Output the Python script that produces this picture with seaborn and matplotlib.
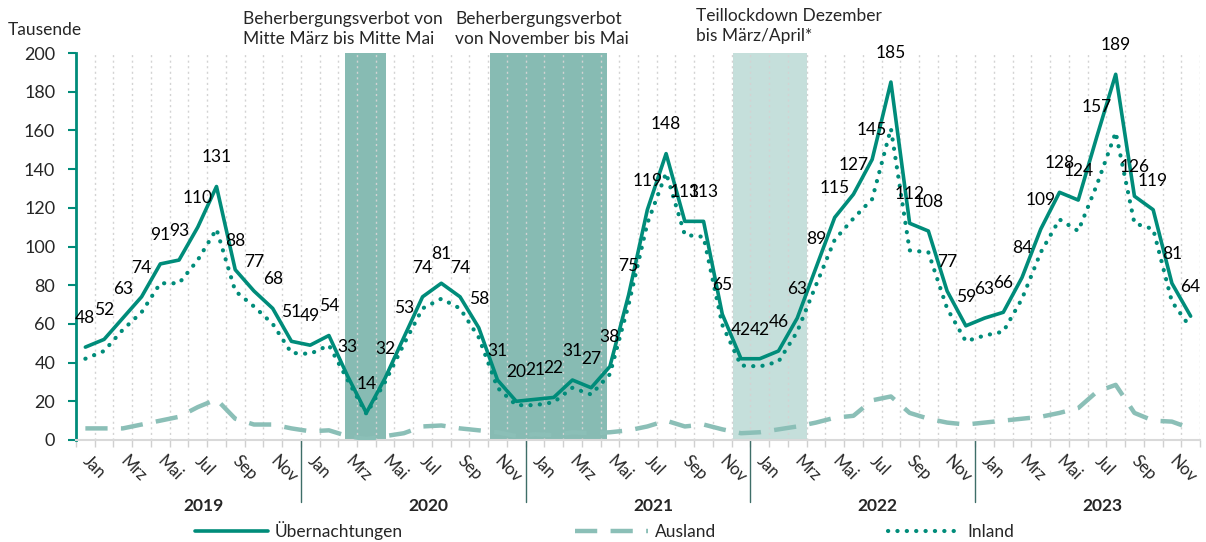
import numpy as np
import pandas as pd
import seaborn as sns
import matplotlib.pyplot as plt

# Monthly values Jan 2019 - Dec 2023, in thousands
uebernachtungen = [
    48, 52, 63, 74, 91, 93, 110, 131, 88, 77, 68, 51,
    49, 54, 33, 14, 32, 53, 74, 81, 74, 58, 31, 20,
    21, 22, 31, 27, 38, 75, 119, 148, 113, 113, 65, 42,
    42, 46, 63, 89, 115, 127, 145, 185, 112, 108, 77, 59,
    63, 66, 84, 109, 128, 124, 157, 189, 126, 119, 81, 64,
]
ausland = [
    6, 6, 6, 8, 10, 12, 17, 21, 11, 8, 8, 6,
    4.5, 5, 2, 0.5, 2, 3.5, 7, 7.5, 6, 5, 4, 2,
    3, 2.5, 4, 3.5, 4, 5, 7, 10, 7, 8, 5.5, 3.5,
    4, 5.5, 7, 9, 11.5, 12.5, 20.5, 22.5, 14, 11, 9, 8,
    9, 10, 11, 12, 14, 16.5, 25, 28.5, 14, 10, 9.5, 6,
]
inland = [
    42, 46, 57, 66, 81, 81, 93, 109, 77, 69, 60, 45,
    44.5, 49, 31, 13.5, 30, 49.5, 68, 73, 68, 53, 27, 18,
    18, 19.5, 27, 23.5, 34, 70, 112, 138, 106, 105, 59.5, 38.5,
    38, 40.5, 56, 80, 103.5, 114.5, 124.5, 161, 98, 97, 68, 51,
    54, 56, 73, 97, 114, 108, 132, 159, 112, 109, 71.5, 58,
]
years = ["2019", "2020", "2021", "2022", "2023"]
month_names = ["Jan", "Feb", "Mrz", "Apr", "Mai", "Jun",
               "Jul", "Aug", "Sep", "Okt", "Nov", "Dez"]

# shaded periods, in month index (0 = Jan 2019)
verbot_spans = [(13.85, 16.05), (21.6, 27.85)]
teillockdown_span = (34.55, 38.5)

df = pd.DataFrame({
    "monat": np.arange(len(uebernachtungen)),
    "Übernachtungen": uebernachtungen,
    "Ausland": ausland,
    "Inland": inland,
})

teal = "#008C7A"
light_teal = "#8BBFB7"
shade_dark = "#87BBB3"
shade_light = "#C5DFDB"

sns.set_theme(style="white")
plt.rcParams["font.family"] = ["Lato", "DejaVu Sans"]

fig = plt.figure(figsize=(12.06, 5.42), dpi=100)
ax = fig.add_axes([76 / 1206, 1 - 440 / 542, (1200 - 76) / 1206, 387 / 542])

for a, b in verbot_spans:
    ax.axvspan(a, b, color=shade_dark, lw=0, zorder=0)
ax.axvspan(*teillockdown_span, color=shade_light, lw=0, zorder=0)

# dotted grid between months
for xb in np.arange(0.5, len(df), 1.0):
    ax.axvline(xb, color="#D3D3D3", lw=1, ls=(0, (1.5, 2.5)), zorder=1)

sns.lineplot(data=df, x="monat", y="Übernachtungen", ax=ax, color=teal,
             linewidth=2.6, label="Übernachtungen", zorder=4)
sns.lineplot(data=df, x="monat", y="Ausland", ax=ax, color=light_teal,
             linewidth=3.2, linestyle=(0, (5, 3)), label="Ausland", zorder=3)
sns.lineplot(data=df, x="monat", y="Inland", ax=ax, color=teal,
             linewidth=3.0, linestyle=(0, (0.05, 2.2)), dash_capstyle="round",
             label="Inland", zorder=3)

for i, v in enumerate(uebernachtungen):
    ax.annotate(str(v), (i, v), xytext=(0, 21), textcoords="offset points",
                ha="center", va="center", fontsize=12.5, color="black", zorder=5)

ax.set_xlim(-0.5, len(df) - 0.5)
ax.set_ylim(0, 200)
ax.set_yticks(range(0, 201, 20))
ax.set_xlabel("")
ax.set_ylabel("")

# x ticks: labels every other month, marks at month boundaries
ax.set_xticks(np.arange(0, len(df), 2))
ax.set_xticklabels([month_names[i % 12] for i in range(0, len(df), 2)],
                   rotation=-45, ha="left", va="center", rotation_mode="anchor")
ax.set_xticks(np.arange(-0.5, len(df), 1.0), minor=True)
ax.tick_params(axis="x", which="major", length=0, pad=13, labelsize=12)
ax.tick_params(axis="x", which="minor", length=5, width=1, color="#D0D0D0",
               direction="out", bottom=True)
ax.tick_params(axis="y", length=6, width=1.5, color=teal, direction="out",
               left=True, pad=9, labelsize=13)

for s in ["top", "right"]:
    ax.spines[s].set_visible(False)
ax.spines["left"].set_color(teal)
ax.spines["left"].set_linewidth(2)
ax.spines["bottom"].set_color("#D9D9D9")
ax.spines["bottom"].set_linewidth(1.5)

# year separators and year labels
trans = ax.get_xaxis_transform()
for k in range(1, len(years)):
    ax.axvline(12 * k - 0.5, ymin=-0.16, ymax=0, color="#3E6E68", lw=1,
               clip_on=False)
for k, yr in enumerate(years):
    ax.text(12 * k + 6.3, -0.17, yr, transform=trans, ha="center", va="center",
            fontsize=12.5, fontweight="bold")

fig.text(8 / 1206, 1 - 30 / 542, "Tausende", ha="left", va="center", fontsize=12.5)
fig.text(243 / 1206, 1 - 29 / 542, "Beherbergungsverbot von\nMitte März bis Mitte Mai",
         ha="left", va="center", fontsize=12.5, linespacing=1.3)
fig.text(455 / 1206, 1 - 29 / 542, "Beherbergungsverbot\nvon November bis Mai",
         ha="left", va="center", fontsize=12.5, linespacing=1.3)
fig.text(696 / 1206, 1 - 26 / 542, "Teillockdown Dezember\nbis März/April*",
         ha="left", va="center", fontsize=12.5, linespacing=1.3)

ax.get_legend().remove()
handles, labels = ax.get_legend_handles_labels()
fig.legend(handles, labels, loc="center left", bbox_to_anchor=(195 / 1206, 1 - 531 / 542),
           ncol=3, frameon=False, fontsize=12.5, handlelength=4.2,
           handletextpad=0.4, columnspacing=9.9, borderpad=0, borderaxespad=0)

fig.savefig("out.png", dpi=100)
